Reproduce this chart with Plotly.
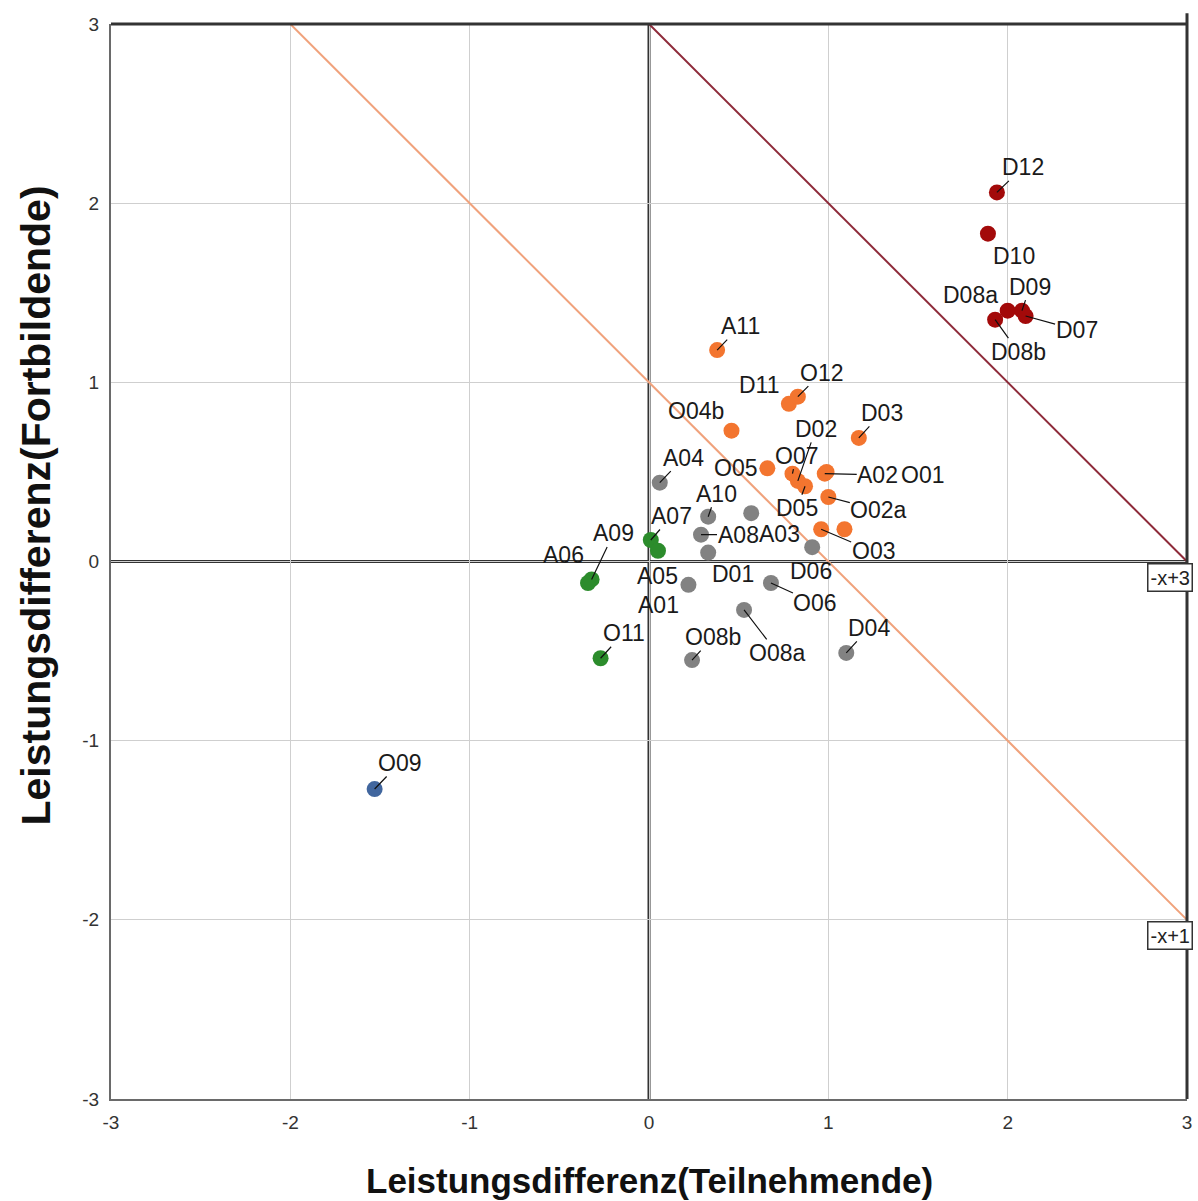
import plotly.graph_objects as go

# ---- data ----
names = ["D12", "D10", "D08a", "D09", "D07", "D08b",
         "A11", "D11", "O12", "O04b", "D03", "O05", "O07", "D02", "D05",
         "A02", "O01", "O02a", "O03", "O10",
         "A04", "A10", "A03", "A08", "D01", "A01", "D06", "O06", "O08a", "O08b", "D04",
         "A07", "A05", "A09", "A06", "O11",
         "O09"]
x_vals = [1.94, 1.89, 2.00, 2.08, 2.10, 1.93,
          0.38, 0.78, 0.83, 0.46, 1.17, 0.66, 0.80, 0.83, 0.87,
          0.98, 0.99, 1.00, 0.96, 1.09,
          0.06, 0.33, 0.57, 0.29, 0.33, 0.22, 0.91, 0.68, 0.53, 0.24, 1.10,
          0.01, 0.05, -0.32, -0.34, -0.27,
          -1.53]
y_vals = [2.06, 1.83, 1.40, 1.40, 1.37, 1.35,
          1.18, 0.88, 0.92, 0.73, 0.69, 0.52, 0.49, 0.45, 0.42,
          0.49, 0.50, 0.36, 0.18, 0.18,
          0.44, 0.25, 0.27, 0.15, 0.05, -0.13, 0.08, -0.12, -0.27, -0.55, -0.51,
          0.12, 0.06, -0.10, -0.12, -0.54,
          -1.27]
groups = ["red"] * 6 + ["orange"] * 14 + ["grey"] * 11 + ["green"] * 5 + ["blue"]
hidden_labels = {"O10"}
no_leader = {"O01", "O05", "D10", "A05", "A06", "D01", "A01", "D06", "D08a", "D11", "O04b", "A03"}

# label offsets (pixels) relative to point
label_offsets = {
    "D12": (26, -25), "D10": (26, 22), "D08a": (-37, -16), "D09": (8, -24),
    "D07": (51, 14), "D08b": (23, 32), "A11": (23, -24), "D11": (-29, -19),
    "O12": (24, -24), "O04b": (-35, -20), "D03": (23, -25), "O05": (-32, 0),
    "O07": (4, -18), "D02": (18, -52), "D05": (-8, 22), "A02": (53, 1),
    "O01": (96, 3), "O02a": (50, 13), "O03": (52, 22), "O10": (0, 0),
    "A04": (24, -25), "A10": (8, -23), "A03": (28, 21), "A08": (37, 0),
    "D01": (25, 21), "A01": (-30, 20), "D06": (-1, 24), "O06": (44, 20),
    "O08a": (33, 43), "O08b": (21, -23), "D04": (23, -25), "A07": (21, -24),
    "A05": (0, 25), "A09": (22, -46), "A06": (-25, -28), "O11": (23, -25),
    "O09": (25, -26),
}

colors = {"red": "#A30A0A", "orange": "#F3752F", "grey": "#828282",
          "green": "#2C8C2C", "blue": "#41669E"}

ticks = [-3, -2, -1, 0, 1, 2, 3]
line3_x = [0, 3]
line1_x = [-2, 3]

FONT = "Liberation Sans, Arial"

fig = go.Figure()

# reference diagonal lines
fig.add_trace(go.Scatter(x=line1_x, y=[-v + 1 for v in line1_x], mode="lines",
                         line=dict(color="#F0A27C", width=2), showlegend=False, hoverinfo="skip"))
fig.add_trace(go.Scatter(x=line3_x, y=[-v + 3 for v in line3_x], mode="lines",
                         line=dict(color="#8E2B3A", width=2), showlegend=False, hoverinfo="skip"))

for g in ["grey", "orange", "green", "red", "blue"]:
    idx = [i for i, gg in enumerate(groups) if gg == g]
    fig.add_trace(go.Scatter(
        x=[x_vals[i] for i in idx], y=[y_vals[i] for i in idx],
        mode="markers", marker=dict(size=16, color=colors[g]),
        text=[names[i] for i in idx], showlegend=False))

annotations = []
for n, xv, yv in zip(names, x_vals, y_vals):
    if n in hidden_labels:
        continue
    ax, ay = label_offsets[n]
    annotations.append(dict(
        x=xv, y=yv, xref="x", yref="y", text=n, showarrow=True,
        ax=ax, ay=ay, arrowhead=0, arrowwidth=1.2, borderpad=0,
        arrowcolor="rgba(0,0,0,0)" if n in no_leader else "#111111",
        font=dict(size=23, color="#1a1a1a", family=FONT)))

# reference line labels
for txt, yv in [("-x+3", 0), ("-x+1", -2)]:
    annotations.append(dict(
        x=3, y=yv, xref="x", yref="y", text=txt, showarrow=False,
        xanchor="left", yanchor="top", xshift=-40, yshift=-1,
        bgcolor="white", bordercolor="#333333", borderwidth=1.5, borderpad=2,
        font=dict(size=20, color="#222222", family=FONT)))

# axis titles as annotations
annotations.append(dict(
    x=0.5, y=0, xref="paper", yref="paper", xanchor="center", yanchor="middle",
    yshift=-81, xshift=0, showarrow=False,
    text="<b>Leistungsdifferenz(Teilnehmende)</b>",
    font=dict(size=35, color="#111111", family=FONT)))
annotations.append(dict(
    x=0, y=0.5, xref="paper", yref="paper", xanchor="center", yanchor="middle",
    xshift=-76, yshift=56, showarrow=False, textangle=-90,
    text="<b>Leistungsdifferenz(Fortbildende)</b>",
    font=dict(size=41, color="#111111", family=FONT)))

shapes = []
dark = dict(color="#333333", width=3)
shapes.append(dict(type="line", xref="x", yref="y", x0=0, x1=0, y0=-3, y1=3, line=dark, layer="below"))
shapes.append(dict(type="line", xref="x", yref="y", x0=-3, x1=3, y0=0, y1=0, line=dark, layer="below"))
# top and right frame lines (paper coords so they are not clipped)
shapes.append(dict(type="line", xref="paper", yref="paper", x0=0, x1=1, y0=1, y1=1, line=dark, layer="above"))
shapes.append(dict(type="line", xref="paper", yref="paper", x0=1, x1=1, y0=0, y1=1.01, line=dark, layer="above"))

axis_common = dict(
    range=[-3, 3], tickvals=ticks, ticktext=[str(t) for t in ticks],
    showgrid=True, gridcolor="#cfcfcf", gridwidth=1.2, zeroline=False,
    showline=True, linecolor="#6a6a6a", linewidth=2, mirror=False,
    ticks="", fixedrange=True,
    tickfont=dict(size=19, color="#333333", family=FONT))

fig.update_layout(
    width=1198, height=1201,
    margin=dict(l=111, r=6, t=24, b=102),
    plot_bgcolor="white", paper_bgcolor="white",
    xaxis=dict(**axis_common, ticklabelstandoff=5),
    yaxis=dict(**axis_common, ticklabelstandoff=6),
    annotations=annotations, shapes=shapes,
)

fig.write_html("out.html", config={"displayModeBar": False},
               post_script="document.body.style.margin='0';")
